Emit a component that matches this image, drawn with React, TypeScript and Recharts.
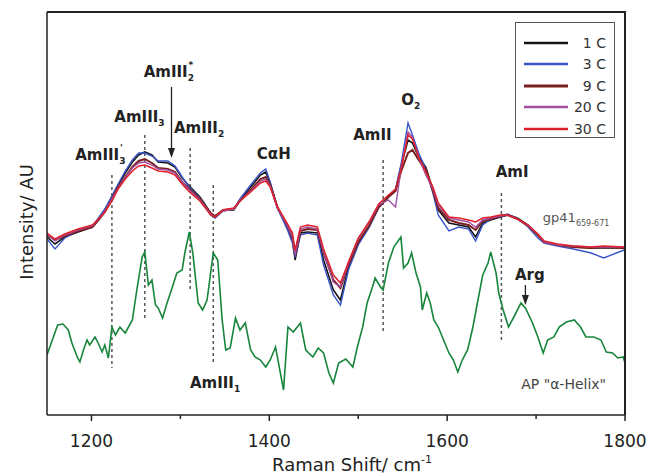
import React from "react";
import { LineChart, Line, XAxis, YAxis, ReferenceLine, ReferenceDot, Legend } from "recharts";

// gp41(659-671) spectra at five concentrations, shared wavenumber grid (cm-1)
const WAVE = [
  1150, 1159, 1170, 1185, 1201, 1207, 1215, 1223, 1230, 1238, 1246, 1253, 1260, 1268, 1275, 1286, 1294, 1302, 1309,
  1322, 1334, 1339, 1348, 1360, 1367, 1379, 1390, 1396, 1401, 1409, 1420, 1426, 1429, 1435, 1443, 1454, 1461, 1472,
  1480, 1489, 1500, 1512, 1523, 1534, 1542, 1548, 1556, 1561, 1568, 1576, 1584, 1590, 1602, 1613, 1624, 1632, 1640,
  1649, 1660, 1668, 1679, 1691, 1702, 1709, 1724, 1742, 1762, 1776, 1799,
];
const C1 = [
  178, 171, 178, 183, 188, 195, 205, 218, 230, 242, 253, 260, 263, 260, 253, 252, 248, 237, 230, 218, 202, 198, 205,
  205, 215, 228, 240, 243, 232, 208, 188, 175, 155, 182, 183, 182, 155, 125, 115, 148, 172, 188, 208, 218, 225, 248,
  275, 272, 258, 248, 225, 205, 192, 190, 188, 178, 192, 195, 198, 200, 197, 190, 180, 173, 170, 168, 167, 167, 167,
];
const C3 = [
  176, 166, 177, 184, 189, 196, 206, 219, 231, 244, 255, 262, 262, 259, 254, 254, 249, 238, 229, 217, 200, 197, 204,
  206, 216, 230, 242, 246, 233, 207, 186, 172, 158, 180, 182, 180, 150, 120, 110, 145, 170, 187, 207, 219, 226, 250,
  292, 280, 262, 246, 222, 200, 184, 188, 186, 174, 190, 196, 199, 201, 197, 188, 177, 172, 169, 166, 162, 157, 165,
];
const C9 = [
  180, 175, 179, 184, 188, 194, 203, 216, 228, 238, 248, 254, 256, 252, 247, 246, 243, 233, 227, 216, 202, 199, 205,
  206, 214, 225, 236, 238, 230, 208, 190, 178, 160, 184, 186, 185, 162, 135, 127, 150, 173, 189, 208, 218, 224, 243,
  262, 265, 255, 245, 224, 207, 195, 192, 190, 185, 194, 196, 199, 200, 196, 189, 180, 173, 170, 168, 167, 168, 167,
];
const C20 = [
  181, 174, 180, 185, 189, 195, 204, 216, 227, 238, 247, 252, 253, 250, 246, 245, 242, 233, 226, 215, 201, 198, 204,
  206, 214, 224, 234, 236, 229, 207, 190, 178, 160, 186, 188, 186, 163, 133, 128, 152, 176, 192, 210, 215, 208, 245,
  283, 278, 257, 240, 226, 210, 197, 195, 193, 188, 195, 197, 199, 200, 196, 189, 181, 173, 170, 169, 168, 168, 168,
];
const C30 = [
  182, 176, 181, 186, 190, 195, 203, 214, 226, 236, 244, 249, 250, 247, 244, 243, 240, 231, 224, 214, 200, 198, 205,
  207, 214, 223, 232, 234, 228, 208, 192, 182, 165, 188, 190, 188, 166, 140, 132, 153, 177, 193, 211, 220, 226, 245,
  280, 276, 258, 243, 228, 212, 198, 197, 195, 193, 197, 198, 200, 200, 196, 190, 181, 174, 171, 169, 168, 169, 168,
];

// AP "α-Helix" reference spectrum
const WAVE_AP = [
  1150, 1156, 1162, 1168, 1174, 1178, 1184, 1187, 1191, 1195, 1198, 1204, 1207, 1212, 1215, 1219, 1223, 1227, 1232,
  1238, 1246, 1251, 1257, 1260, 1264, 1268, 1272, 1275, 1280, 1285, 1291, 1296, 1302, 1305, 1310, 1314, 1320, 1325,
  1330, 1337, 1342, 1347, 1351, 1356, 1362, 1367, 1373, 1379, 1384, 1390, 1396, 1401, 1407, 1416, 1421, 1427, 1435,
  1441, 1449, 1455, 1461, 1467, 1472, 1478, 1486, 1494, 1499, 1505, 1510, 1516, 1519, 1525, 1528, 1534, 1540, 1548,
  1551, 1556, 1560, 1565, 1570, 1572, 1577, 1581, 1585, 1590, 1596, 1602, 1607, 1612, 1617, 1623, 1629, 1634, 1640,
  1646, 1649, 1655, 1658, 1663, 1669, 1675, 1683, 1688, 1696, 1702, 1708, 1713, 1720, 1726, 1734, 1743, 1750, 1756,
  1765, 1773, 1779, 1786, 1792, 1798, 1800,
];
const AP_HELIX = [
  60, 75, 90, 91, 85, 72, 58, 53, 65, 75, 70, 78, 73, 63, 70, 57, 88, 80, 88,
  82, 95, 125, 158, 163, 130, 135, 110, 107, 97, 112, 128, 142, 145, 162, 183, 162, 112, 105,
  115, 162, 155, 95, 65, 67, 97, 85, 92, 65, 58, 55, 48, 55, 68, 25, 88, 83, 92,
  65, 58, 67, 62, 42, 32, 52, 56, 48, 68, 88, 112, 128, 137, 128, 125, 152, 168, 178,
  147, 152, 162, 142, 128, 105, 122, 112, 95, 88, 75, 62, 55, 43, 55, 65, 88, 112, 140,
  152, 163, 142, 122, 105, 88, 98, 112, 107, 92, 78, 62, 75, 78, 88, 93, 95, 88, 78,
  78, 75, 63, 62, 57, 58, 52,
];

const SERIES = [
  { key: "c1", name: "1 C", values: C1, color: "#141414", width: 1.6 },
  { key: "c3", name: "3 C", values: C3, color: "#3a55c8", width: 1.4 },
  { key: "c9", name: "9 C", values: C9, color: "#7a1f1f", width: 2 },
  { key: "c20", name: "20 C", values: C20, color: "#a04fa0", width: 1.4 },
  { key: "c30", name: "30 C", values: C30, color: "#e0202a", width: 1.5 },
];

const TICKS = [1200, 1300, 1400, 1500, 1600, 1700, 1800];
const TICK_LABELS = [1200, 1400, 1600, 1800];
const X_DOMAIN = [1150, 1800];
const Y_DOMAIN = [0, 403];

// dashed band-assignment markers: wavenumber and vertical extent
const MARKERS = [
  { x: 1223, y1: 240, y2: 47 },
  { x: 1260, y1: 280, y2: 97 },
  { x: 1311, y1: 267, y2: 125 },
  { x: 1337, y1: 230, y2: 50 },
  { x: 1528, y1: 255, y2: 82 },
  { x: 1661, y1: 222, y2: 72 },
];

type Ann = { x: number; y: number; text: string; sub?: string; sup?: string; bold?: boolean; size?: number; color?: string };
const ANNOTATIONS: Ann[] = [
  { x: 1210, y: 255, text: "AmIII", sub: "3", sup: "'" },
  { x: 1254, y: 293, text: "AmIII", sub: "3" },
  { x: 1287, y: 338, text: "AmIII", sub: "2", sup: "*" },
  { x: 1321, y: 282, text: "AmIII", sub: "2" },
  { x: 1405, y: 256, text: "CαH" },
  { x: 1516, y: 275, text: "AmII" },
  { x: 1559, y: 310, text: "O", sub: "2" },
  { x: 1673, y: 238, text: "AmI" },
  { x: 1745, y: 193, text: "gp41", sub: "659-671", bold: false, size: 13, color: "#555" },
  { x: 1693, y: 135, text: "Arg" },
  { x: 1339, y: 27, text: "AmIII", sub: "1" },
  { x: 1731, y: 26, text: "AP \"α-Helix\"", bold: false, size: 14, color: "#444" },
];
const ARROWS = [
  { x: 1290, from: 328, to: 257 },
  { x: 1688, from: 130, to: 110 },
];

const FONT = "DejaVu Sans, Verdana, sans-serif";
const CHART_W = 648;
const CHART_H = 476;
const MARGIN = { top: 12, right: 23, bottom: 0, left: 0 };
const Y_AXIS_W = 47;
const X_AXIS_H = 61;
const PLOT_W = CHART_W - MARGIN.left - MARGIN.right - Y_AXIS_W;
const PLOT_H = CHART_H - MARGIN.top - MARGIN.bottom - X_AXIS_H;

const gp41 = WAVE.map((x, i) => ({ x, c1: C1[i], c3: C3[i], c9: C9[i], c20: C20[i], c30: C30[i] }));
const ap = WAVE_AP.map((x, i) => ({ x, ap: AP_HELIX[i] }));

function AnnText({ cx, cy, a }: { cx: number; cy: number; a: Ann }) {
  const fs = a.size ?? 15;
  const small = Math.round(fs * 0.6);
  return (
    <text x={cx} y={cy} textAnchor="middle" fontFamily={FONT} fontSize={fs} fontWeight={a.bold === false ? 400 : 700} fill={a.color ?? "#222"}>
      {a.text}
      {a.sub && (
        <tspan dy={4} fontSize={small}>
          {a.sub}
        </tspan>
      )}
      {a.sup && (
        <tspan dx={a.sub ? -small * 0.6 : 0} dy={a.sub ? -13 : -8} fontSize={small}>
          {a.sup}
        </tspan>
      )}
    </text>
  );
}

function XTick({ x, y, payload }: any) {
  const major = TICK_LABELS.includes(payload.value);
  return (
    <g>
      <line x1={x} x2={x} y1={y} y2={y + (major ? 6 : 4)} stroke="#222" strokeWidth={1.5} />
      {major && (
        <text x={x} y={y + 32} textAnchor="middle" fontFamily={FONT} fontSize={17} fill="#222">
          {payload.value}
        </text>
      )}
    </g>
  );
}

function LegendBox() {
  return (
    <div style={{ border: "1.5px solid #555", background: "#fff", width: 100, height: 116, boxSizing: "border-box", padding: "9px 8px 0 8px", fontFamily: FONT, fontSize: 14, color: "#333" }}>
      {SERIES.map((s) => (
        <div key={s.key} style={{ display: "flex", alignItems: "center", height: 21.5 }}>
          <svg width={44} height={8}>
            <line x1={0} x2={44} y1={4} y2={4} stroke={s.color} strokeWidth={s.width + 1} />
          </svg>
          <span style={{ flex: 1, textAlign: "right" }}>{s.name}</span>
        </div>
      ))}
    </div>
  );
}

export default function App() {
  const fx = MARGIN.left + Y_AXIS_W;
  const fy = MARGIN.top;
  return (
    <div style={{ position: "absolute", left: 0, top: 0, width: CHART_W, height: CHART_H, background: "#fff" }}>
      <LineChart width={CHART_W} height={CHART_H} data={gp41} margin={MARGIN}>
        <XAxis
          dataKey="x"
          type="number"
          domain={X_DOMAIN}
          ticks={TICKS}
          interval={0}
          height={X_AXIS_H}
          tickSize={0}
          tickMargin={0}
          tickLine={false}
          tick={<XTick />}
          stroke="#222"
          strokeWidth={1.5}
          allowDataOverflow
          label={{
            content: ({ viewBox }: any) => (
              <text x={viewBox.x + viewBox.width / 2 + 16} y={viewBox.y + 56} textAnchor="middle" fontFamily={FONT} fontSize={18} fill="#222">
                Raman Shift/ cm
                <tspan dy={-8} fontSize={11}>
                  -1
                </tspan>
              </text>
            ),
          }}
        />
        <YAxis
          type="number"
          domain={Y_DOMAIN}
          width={Y_AXIS_W}
          tick={false}
          tickLine={false}
          stroke="#222"
          strokeWidth={1.5}
          allowDataOverflow
          label={{
            content: ({ viewBox }: any) => (
              <text
                x={viewBox.x + 33}
                y={viewBox.y + 210}
                transform={`rotate(-90 ${viewBox.x + 33} ${viewBox.y + 210})`}
                textAnchor="middle"
                fontFamily={FONT}
                fontSize={18}
                fill="#222"
              >
                Intensity/ AU
              </text>
            ),
          }}
        />
        {MARKERS.map((m) => (
          <ReferenceLine
            key={m.x}
            segment={[
              { x: m.x, y: m.y1 },
              { x: m.x, y: m.y2 },
            ]}
            stroke="#555"
            strokeWidth={1.5}
            strokeDasharray="3 3"
          />
        ))}
        <Line data={ap} dataKey="ap" type="linear" stroke="#17853b" strokeWidth={1.6} dot={false} isAnimationActive={false} legendType="none" />
        {SERIES.map((s) => (
          <Line key={s.key} dataKey={s.key} name={s.name} type="linear" stroke={s.color} strokeWidth={s.width} dot={false} isAnimationActive={false} />
        ))}
        {ARROWS.map((a) => (
          <ReferenceLine
            key={`al${a.x}`}
            segment={[
              { x: a.x, y: a.from },
              { x: a.x, y: a.to + 6 },
            ]}
            stroke="#222"
            strokeWidth={1.3}
          />
        ))}
        {ARROWS.map((a) => (
          <ReferenceDot
            key={`ah${a.x}`}
            x={a.x}
            y={a.to}
            r={0}
            shape={(p: any) => <polygon points={`${p.cx - 3.5},${p.cy - 10} ${p.cx + 3.5},${p.cy - 10} ${p.cx},${p.cy}`} fill="#222" />}
          />
        ))}
        {ANNOTATIONS.map((a, i) => (
          <ReferenceDot key={`t${i}`} x={a.x} y={a.y} r={0} shape={(p: any) => <AnnText cx={p.cx} cy={p.cy} a={a} />} />
        ))}
        <Legend
          layout="horizontal"
          verticalAlign="middle"
          align="center"
          content={() => <LegendBox />}
          wrapperStyle={{ position: "absolute", left: 515, top: 22, width: 100, height: 116 }}
        />
      </LineChart>
      {/* plot frame: top and right edges, overlaid on the chart */}
      <svg
        width={CHART_W}
        height={CHART_H}
        style={{ position: "absolute", left: 0, top: 0, zIndex: 10, pointerEvents: "none", overflow: "visible" }}
      >
        <path d={`M${fx},${fy} H${fx + PLOT_W} V${fy + PLOT_H}`} fill="none" stroke="#222" strokeWidth={2} />
      </svg>
    </div>
  );
}
